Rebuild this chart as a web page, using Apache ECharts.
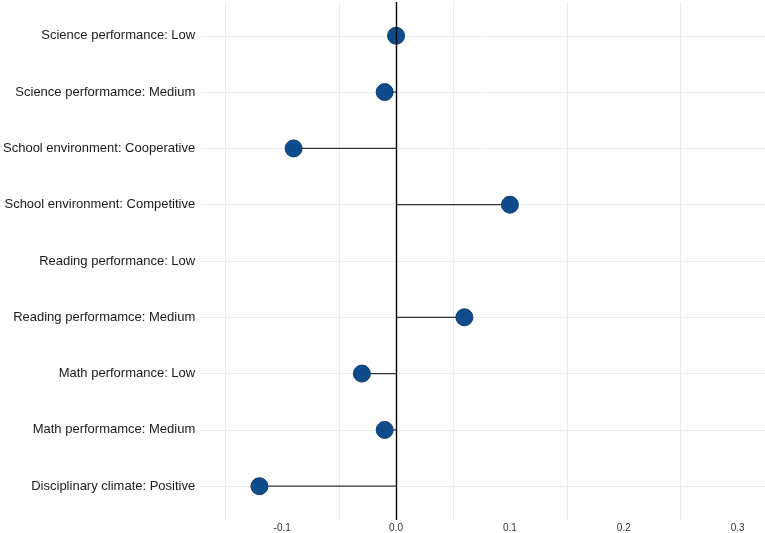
<!DOCTYPE html>
<html>
<head>
<meta charset="utf-8">
<script src="https://cdn.jsdelivr.net/npm/echarts@6/dist/echarts.min.js"></script>
<style>
  html, body { margin: 0; padding: 0; background: #fff; }
  #main { width: 765px; height: 533px; }
</style>
</head>
<body>
<div id="main"></div>
<script>
// categories from top to bottom
var categories = [
  'Science performance: Low',
  'Science performamce: Medium',
  'School environment: Cooperative',
  'School environment: Competitive',
  'Reading performance: Low',
  'Reading performamce: Medium',
  'Math performance: Low',
  'Math performamce: Medium',
  'Disciplinary climate: Positive'
];
// estimate per category (null = no point shown)
var estimates = [0.0, -0.01, -0.09, 0.10, null, 0.06, -0.03, -0.01, -0.12];

// tick labels and grid lines of the x axis
var xLabelTicks = [-0.1, 0, 0.1, 0.2, 0.3];
var xGridTicks = [-0.15, -0.05, 0.05, 0.15, 0.25];
var rowTicks = [0, 1, 2, 3, 4, 5, 6, 7, 8];

var points = [];
estimates.forEach(function (v, i) {
  if (v !== null) points.push([v, i]);
});

var myChart = echarts.init(document.getElementById('main'));
var option = {
  animation: false,
  textStyle: { fontFamily: 'Liberation Sans, Arial, sans-serif' },
  grid: { left: 200, right: 0, top: 2, bottom: 13 },
  xAxis: {
    type: 'value',
    min: -0.172,
    max: 0.324,
    axisLine: { show: false },
    axisTick: { show: false, customValues: xGridTicks },
    axisLabel: {
      customValues: xLabelTicks,
      color: '#333',
      fontSize: 10,
      margin: 3,
      formatter: function (v) { return v.toFixed(1); }
    },
    splitLine: { show: true, lineStyle: { color: '#ebebeb', width: 1 } }
  },
  yAxis: {
    type: 'value',
    inverse: true,
    min: -0.6,
    max: 8.6,
    axisLine: { show: false },
    axisTick: { show: false, customValues: rowTicks },
    axisLabel: {
      customValues: rowTicks,
      color: '#1a1a1a',
      fontSize: 13,
      margin: 5,
      formatter: function (v) { return categories[v]; }
    },
    splitLine: { show: true, lineStyle: { color: '#ebebeb', width: 1 } }
  },
  series: [
    {
      name: 'stem',
      type: 'custom',
      z: 2,
      silent: true,
      renderItem: function (params, api) {
        var start = api.coord([0, api.value(1)]);
        var end = api.coord([api.value(0), api.value(1)]);
        return {
          type: 'line',
          shape: { x1: start[0], y1: start[1], x2: end[0], y2: end[1] },
          style: { stroke: '#333', lineWidth: 1.3 }
        };
      },
      data: points,
      markLine: {
        silent: true,
        symbol: 'none',
        label: { show: false },
        lineStyle: { color: '#000', width: 1.4, type: 'solid' },
        data: [{ xAxis: 0 }]
      }
    },
    {
      name: 'estimate',
      type: 'scatter',
      z: 3,
      symbolSize: 17,
      itemStyle: { color: '#0f4c8c', borderColor: '#0b3a6e', borderWidth: 1, opacity: 1 },
      data: points
    }
  ]
};
myChart.setOption(option);
</script>
</body>
</html>
